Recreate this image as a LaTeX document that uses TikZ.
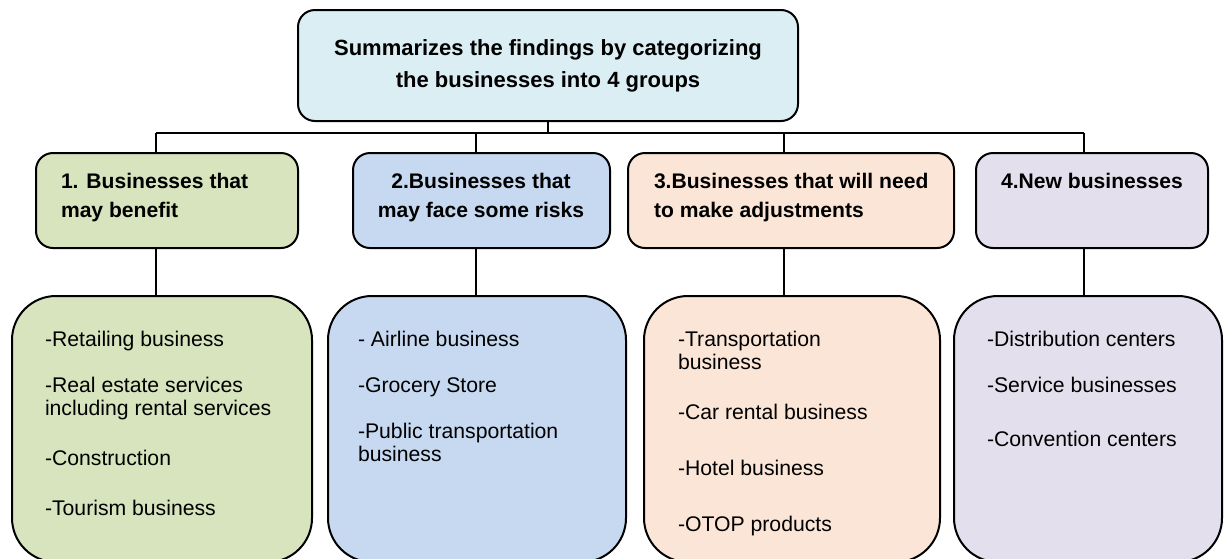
\documentclass[tikz,border=0pt]{standalone}
\usepackage{fontspec}
\setmainfont{Liberation Sans}
\usepackage{xcolor}
\usetikzlibrary{positioning}

\definecolor{topicfill}{HTML}{DBEEF4}
\definecolor{grpA}{HTML}{D7E4BD}
\definecolor{grpB}{HTML}{C6D9F1}
\definecolor{grpC}{HTML}{FBE5D6}
\definecolor{grpD}{HTML}{E4DFEC}

\begin{document}
\begin{tikzpicture}[x=0.5pt,y=-0.5pt,line width=1pt,
        topic/.style={draw,rounded corners=8.5pt,fill=topicfill,minimum width=250pt,minimum height=55.5pt,
            align=center,font=\fontsize{11}{16}\selectfont\bfseries},
        group/.style={draw,rounded corners=8.5pt,minimum height=47.5pt},
        itembox/.style={draw,rounded corners=22pt,minimum height=133pt},
        grouptext/.style={inner sep=0pt,font=\fontsize{10.55}{14.5}\selectfont\bfseries},
        itemtext/.style={inner sep=0pt,anchor=north west,align=left,font=\fontsize{10.6}{11.5}\selectfont}]

        \useasboundingbox (0,0) rectangle (1224,558);

        % top box
        \node[topic] (top) at (548,65.5) {Summarizes the findings by categorizing\\the businesses into 4 groups};

        % the four groups
        \node[group,fill=grpA,minimum width=131pt] (g1) at (167,200.5) {};
        \node[grouptext,anchor=north west,align=left] (g1text) at (60,172) {1. Businesses that\\may benefit};
        \node[group,fill=grpB,minimum width=128.5pt] (g2) at (481.5,200.5) {};
        \node[grouptext,anchor=north,align=center] (g2text) at (481,172) {2.Businesses that\\may face some risks};
        \node[group,fill=grpC,minimum width=163pt] (g3) at (791,200.5) {};
        \node[grouptext,anchor=north west,align=left] (g3text) at (653,172) {3.Businesses that will need\\to make adjustments};
        \node[group,fill=grpD,minimum width=116pt] (g4) at (1092,200.5) {};
        \node[grouptext,anchor=north] (g4text) at (1092,172) {4.New businesses};

        % lists under each group
        \node[itembox,fill=grpA,minimum width=150pt] (i1) at (162,429) {};
        \node[itemtext] (i1text) at (44,330) {-Retailing business\\[11.5pt]-Real estate services\\including rental services\\[13.5pt]-Construction\\[13.5pt]-Tourism business};
        \node[itembox,fill=grpB,minimum width=149pt] (i2) at (477,429) {};
        \node[itemtext] (i2text) at (357,330) {- Airline business\\[11.5pt]-Grocery Store\\[11.5pt]-Public transportation\\business};
        \node[itembox,fill=grpC,minimum width=148pt] (i3) at (792,429) {};
        \node[itemtext] (i3text) at (677,330) {-Transportation\\business\\[13.5pt]-Car rental business\\[16.5pt]-Hotel business\\[16.5pt]-OTOP products};
        \node[itembox,fill=grpD,minimum width=134pt] (i4) at (1088,429) {};
        \node[itemtext] (i4text) at (986,330) {-Distribution centers\\[11.5pt]-Service businesses\\[15.5pt]-Convention centers};

        % connectors
        \coordinate (bus) at (548,133);
        \coordinate (j1) at (156,133);
        \coordinate (j2) at (476,133);
        \coordinate (j3) at (784,133);
        \coordinate (j4) at (1084,133);
        \draw (top.south) -- (bus);
        \draw (j1) -- (j4);
        \foreach \k in {1,...,4} {
            \draw (j\k) -- (j\k |- g\k.north);
            \draw (j\k |- g\k.south) -- (j\k |- i\k.north);
        }
\end{tikzpicture}
\end{document}
